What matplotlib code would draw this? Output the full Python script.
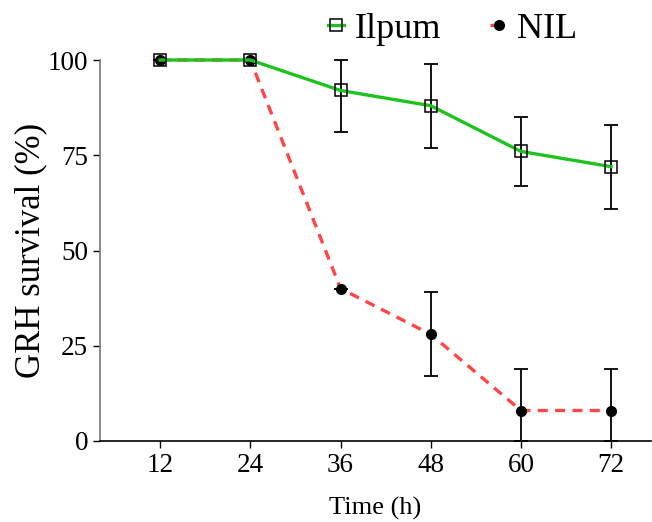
import matplotlib.pyplot as plt
import numpy as np

# data
time_h = [12, 24, 36, 48, 60, 72]
ilpum = [100, 100, 92, 88, 76, 72]
ilpum_err_lo = [0, 0, 11, 11, 9, 11]
ilpum_err_hi = [0, 0, 8, 11, 9, 11]
nil = [100, 100, 40, 28, 8, 8]
nil_err_lo = [0, 0, 0, 11, 8, 8]
nil_err_hi = [0, 0, 0, 11, 11, 11]

plt.rcParams['font.family'] = ['Liberation Serif', 'DejaVu Serif']

fig = plt.figure(figsize=(6.52, 5.22), dpi=100)
ax = fig.add_axes([100 / 652, 1 - 441 / 522, 551 / 652, 381 / 522])

# error bars (drawn first, black)
ax.errorbar(time_h, nil, yerr=[nil_err_lo, nil_err_hi], fmt='none',
            ecolor='black', elinewidth=1.3, capsize=5, capthick=1.3,
            clip_on=False, zorder=2)
ax.errorbar(time_h, ilpum, yerr=[ilpum_err_lo, ilpum_err_hi], fmt='none',
            ecolor='black', elinewidth=1.3, capsize=5, capthick=1.3,
            clip_on=False, zorder=2)

# NIL: dashed red with black dots
ax.plot(time_h, nil, color='#ff4545', lw=2.4, ls=(0, (3, 2.2)),
        marker='o', ms=7, mfc='black', mec='black', clip_on=False,
        zorder=3, label='NIL')
# Ilpum: solid green with open squares
ax.plot(time_h, ilpum, color='#1ec21e', lw=2.4, marker='s', ms=8,
        mfc='none', mec='black', mew=1.1, clip_on=False, zorder=4,
        label='Ilpum')

ax.set_xlim(4, 77.3)
ax.set_ylim(0, 100)
ax.set_xticks(time_h)
ax.set_yticks([0, 25, 50, 75, 100])
ax.tick_params(labelsize=19.5, length=5, width=1, direction='out')

ax.spines['top'].set_visible(False)
ax.spines['right'].set_visible(False)
ax.spines['left'].set_color('#777777')
ax.spines['bottom'].set_color('black')
ax.spines['left'].set_linewidth(1.2)
ax.spines['bottom'].set_linewidth(1.2)

ax.set_xlabel('Time (h)', fontsize=19, labelpad=14)
ax.set_ylabel('GRH survival (%)', fontsize=25, labelpad=0.5)

handles, labels = ax.get_legend_handles_labels()
ax.legend(handles[::-1], labels[::-1], loc='lower center',
          bbox_to_anchor=(0.64, 1.0), ncol=2, frameon=False, fontsize=26,
          handlelength=0.45, handletextpad=0.3, columnspacing=1.36,
          borderaxespad=0)

fig.savefig('out.png', dpi=100)
